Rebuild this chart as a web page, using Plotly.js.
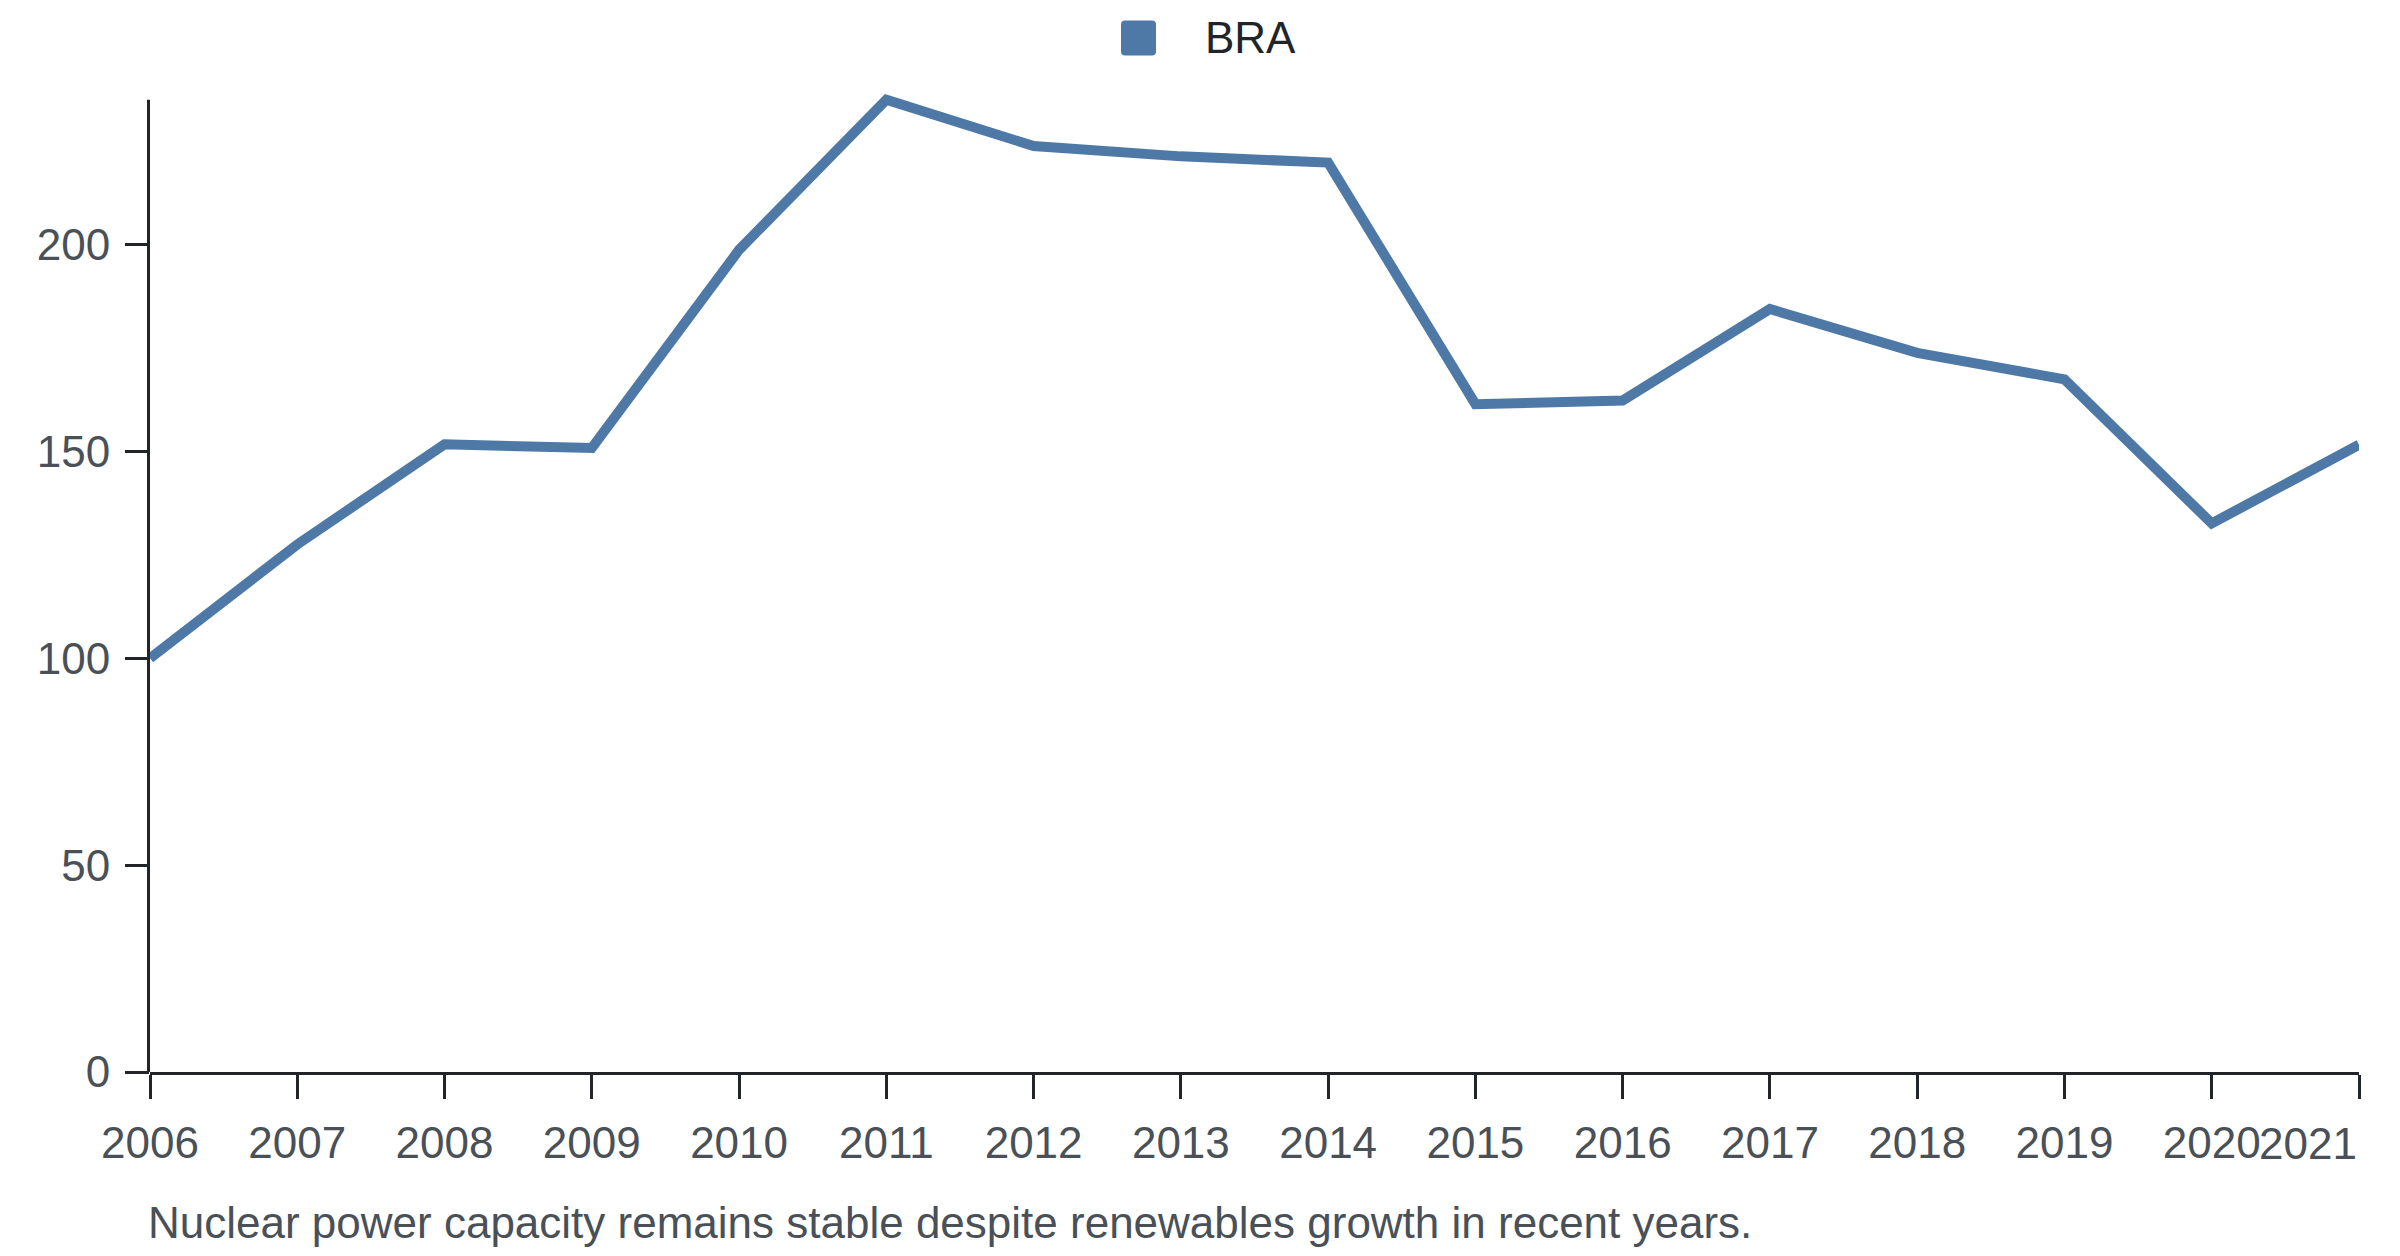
<!DOCTYPE html>
<html>
<head>
<meta charset="utf-8">
<script src="https://cdn.plot.ly/plotly-3.0.1.min.js"></script>
<style>
  html, body { margin: 0; padding: 0; background: #ffffff; }
  #chart { width: 2400px; height: 1256px; }
</style>
</head>
<body>
<div id="chart"></div>
<script>
// ---- data ----
const years = [2006, 2007, 2008, 2009, 2010, 2011, 2012, 2013, 2014, 2015, 2016, 2017, 2018, 2019, 2020, 2021];
const capacity = [100, 127.5, 151.7, 150.8, 198.7, 235, 223.8, 221.3, 219.8, 161.4, 162.3, 184.4, 173.8, 167.4, 132.6, 151.6];
const seriesName = "BRA";
const yTickValues = [0, 50, 100, 150, 200];
const caption = "Nuclear power capacity remains stable despite renewables growth in recent years.";

// ---- layout constants ----
const W = 2400, H = 1256;
const yAxisTop = 235;          // axis line ends at the data maximum
const yRangeTop = 240;         // a little headroom so the peak is not clipped
const axisTopPx = 100, axisBottomPx = 1072;
const pxPerUnit = (axisBottomPx - axisTopPx) / yAxisTop;
const M = { l: 150, r: 41, t: Math.round(axisBottomPx - yRangeTop * pxPerUnit), b: H - axisBottomPx };
const plotW = W - M.l - M.r, plotH = H - M.t - M.b;
const px2x = px => (px - M.l) / plotW;
const px2y = py => (H - M.b - py) / plotH;

const lineColor = "#4e79a7";
const axisColor = "#212529";
const labelColor = "#495057";
const FONT = "Liberation Sans, Arial, Helvetica, sans-serif";

const lastYear = years[years.length - 1];
const tickText = years.map(y => (y === lastYear ? "" : String(y)));

const trace = {
  x: years,
  y: capacity,
  type: "scatter",
  mode: "lines",
  name: seriesName,
  line: { color: lineColor, width: 10 },
  cliponaxis: false,
  showlegend: false,
  hoverinfo: "x+y"
};

const half = 17.5, rr = 4;
const squarePath =
  `M ${-half + rr},${-half} L ${half - rr},${-half} Q ${half},${-half} ${half},${-half + rr} ` +
  `L ${half},${half - rr} Q ${half},${half} ${half - rr},${half} L ${-half + rr},${half} ` +
  `Q ${-half},${half} ${-half},${half - rr} L ${-half},${-half + rr} Q ${-half},${-half} ${-half + rr},${-half} Z`;

const layout = {
  width: W,
  height: H,
  margin: M,
  paper_bgcolor: "#ffffff",
  plot_bgcolor: "#ffffff",
  font: { family: FONT, size: 44, color: labelColor },
  showlegend: false,
  xaxis: {
    range: [years[0], lastYear],
    tickmode: "array",
    tickvals: years,
    ticktext: tickText,
    ticks: "outside",
    ticklen: 24,
    tickwidth: 3,
    tickcolor: axisColor,
    showline: true,
    linecolor: axisColor,
    linewidth: 3,
    showgrid: false,
    zeroline: false,
    ticklabelstandoff: 6,
    tickfont: { family: FONT, size: 44, color: labelColor },
    fixedrange: true
  },
  yaxis: {
    range: [0, yRangeTop],
    tickmode: "array",
    tickvals: yTickValues,
    ticktext: yTickValues.map(String),
    ticks: "outside",
    ticklen: 24,
    tickwidth: 3,
    tickcolor: axisColor,
    showline: false,
    showgrid: false,
    zeroline: false,
    ticklabelstandoff: 6,
    tickfont: { family: FONT, size: 44, color: labelColor },
    fixedrange: true
  },
  shapes: [
    {
      // y-axis line, from 0 up to the data maximum
      type: "line",
      xref: "paper", yref: "y",
      x0: px2x(148.5), x1: px2x(148.5),
      y0: 0, y1: yAxisTop,
      line: { color: axisColor, width: 3 },
      layer: "below"
    },
    {
      type: "path",
      xref: "paper", yref: "paper",
      xsizemode: "pixel", ysizemode: "pixel",
      xanchor: px2x(1138.5), yanchor: px2y(38),
      path: squarePath,
      fillcolor: lineColor,
      line: { width: 0 }
    }
  ],
  annotations: [
    {
      text: seriesName,
      xref: "paper", yref: "paper",
      x: px2x(1203), y: px2y(38),
      xanchor: "left", yanchor: "middle",
      showarrow: false,
      font: { family: FONT, size: 44, color: axisColor }
    },
    {
      text: String(lastYear),
      xref: "x", yref: "paper",
      x: lastYear, y: px2y(1143),
      xanchor: "right", yanchor: "middle",
      showarrow: false,
      font: { family: FONT, size: 44, color: labelColor }
    },
    {
      text: caption,
      xref: "paper", yref: "paper",
      x: px2x(146), y: px2y(1222),
      xanchor: "left", yanchor: "middle",
      showarrow: false,
      font: { family: FONT, size: 44, color: labelColor }
    }
  ]
};

Plotly.newPlot("chart", [trace], layout, { displayModeBar: false, staticPlot: true });
</script>
</body>
</html>
